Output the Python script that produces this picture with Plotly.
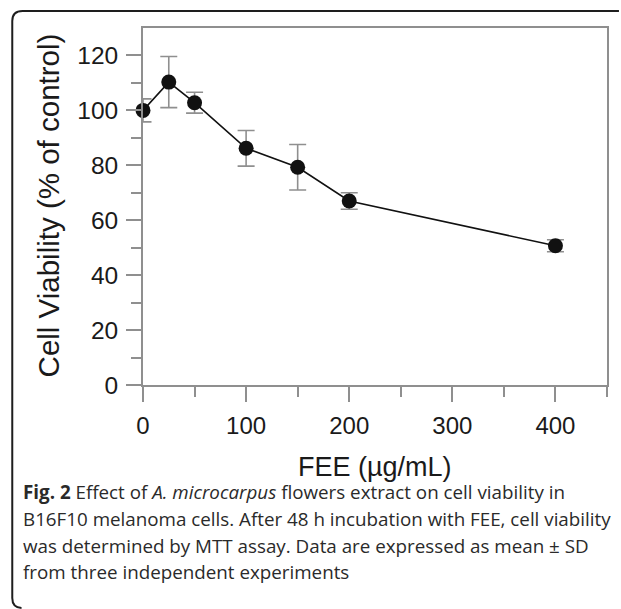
import plotly.graph_objects as go

# ---- data ----
fee_conc = [0, 25, 50, 100, 150, 200, 400]
viability = [100.0, 110.3, 102.8, 86.2, 79.3, 67.0, 50.7]
viability_sd = [4.2, 9.3, 3.8, 6.5, 8.3, 3.0, 2.2]

x_ticks = [0, 100, 200, 300, 400]
y_ticks = [0, 20, 40, 60, 80, 100, 120]

x_title = "FEE (µg/mL)"
y_title = "Cell Viability (% of control)"
caption_lines = [
    "<b>Fig. 2</b> Effect of <i>A. microcarpus</i> flowers extract on cell viability in",
    "B16F10 melanoma cells. After 48 h incubation with FEE, cell viability",
    "was determined by MTT assay. Data are expressed as mean ± SD",
    "from three independent experiments",
]

W, H = 621, 609
ML, MR, MT, MB = 143, 12, 28, 224
PW, PH = W - ML - MR, H - MT - MB


def px(x):
    return (x - ML) / PW


def py(y):
    return (H - MB - y) / PH


AX_FONT = "Liberation Sans, Arial, sans-serif"
CAP_FONT = "Open Sans, sans-serif"
GRAY = "#8f8f8f"

fig = go.Figure()
fig.add_trace(go.Scatter(
    x=fee_conc, y=viability,
    mode="lines+markers",
    line=dict(color="#111111", width=1.6),
    marker=dict(color="#111111", size=15),
    error_y=dict(type="data", array=viability_sd, visible=True,
                 color=GRAY, thickness=1.6, width=8.5),
    cliponaxis=False,
    showlegend=False,
))

fig.update_xaxes(
    range=[0, 450], tickvals=x_ticks, ticktext=[str(v) for v in x_ticks],
    showgrid=False, zeroline=False,
    showline=True, linecolor=GRAY, linewidth=1.8, mirror=True,
    ticks="outside", ticklen=15, tickwidth=1.5, tickcolor=GRAY,
    minor=dict(tickvals=[50, 150, 250, 350, 450], ticks="outside", ticklen=10,
               tickwidth=1.5, tickcolor=GRAY),
    tickfont=dict(family=AX_FONT, size=24, color="#1a1a1a"),
    ticklabelstandoff=3,
)
fig.update_yaxes(
    range=[0, 130], tickvals=y_ticks, ticktext=[str(v) for v in y_ticks],
    showgrid=False, zeroline=False,
    showline=True, linecolor=GRAY, linewidth=1.8, mirror=True,
    ticks="outside", ticklen=15, tickwidth=1.5, tickcolor=GRAY,
    minor=dict(tickvals=[10, 30, 50, 70, 90, 110], ticks="outside", ticklen=10,
               tickwidth=1.5, tickcolor=GRAY),
    tickfont=dict(family=AX_FONT, size=24.5, color="#1a1a1a"),
    ticklabelstandoff=3,
)

annotations = [
    dict(text=x_title, x=px(375.5), y=py(467), xref="paper", yref="paper",
         showarrow=False, xanchor="center", yanchor="middle",
         font=dict(family=AX_FONT, size=27, color="#1a1a1a")),
    dict(text=y_title, x=px(48), y=py(205), xref="paper", yref="paper",
         showarrow=False, xanchor="center", yanchor="middle", textangle=-90,
         font=dict(family=AX_FONT, size=29.5, color="#1a1a1a")),
]
CAP_SIZE = 18.8
centers = [492, 519, 545.5, 572]
for line, c in zip(caption_lines, centers):
    annotations.append(dict(
        text=line, x=px(20), y=py(c), xref="paper", yref="paper",
        showarrow=False, xanchor="left", yanchor="middle", align="left",
        font=dict(family=CAP_FONT, size=CAP_SIZE, color="#2a2a2a")))

border = (f"M {px(621)} {py(11)} L {px(22)} {py(11)} "
          f"Q {px(11.7)} {py(11)} {px(11.7)} {py(21)} "
          f"L {px(11.7)} {py(598)} "
          f"Q {px(11.7)} {py(607.5)} {px(21)} {py(608)}")

fig.update_layout(
    width=W, height=H,
    margin=dict(l=ML, r=MR, t=MT, b=MB, pad=0),
    paper_bgcolor="white", plot_bgcolor="white",
    annotations=annotations,
    shapes=[dict(type="path", path=border, xref="paper", yref="paper",
                 line=dict(color="#1e1e1e", width=2))],
)

fig.write_html("out.html")
